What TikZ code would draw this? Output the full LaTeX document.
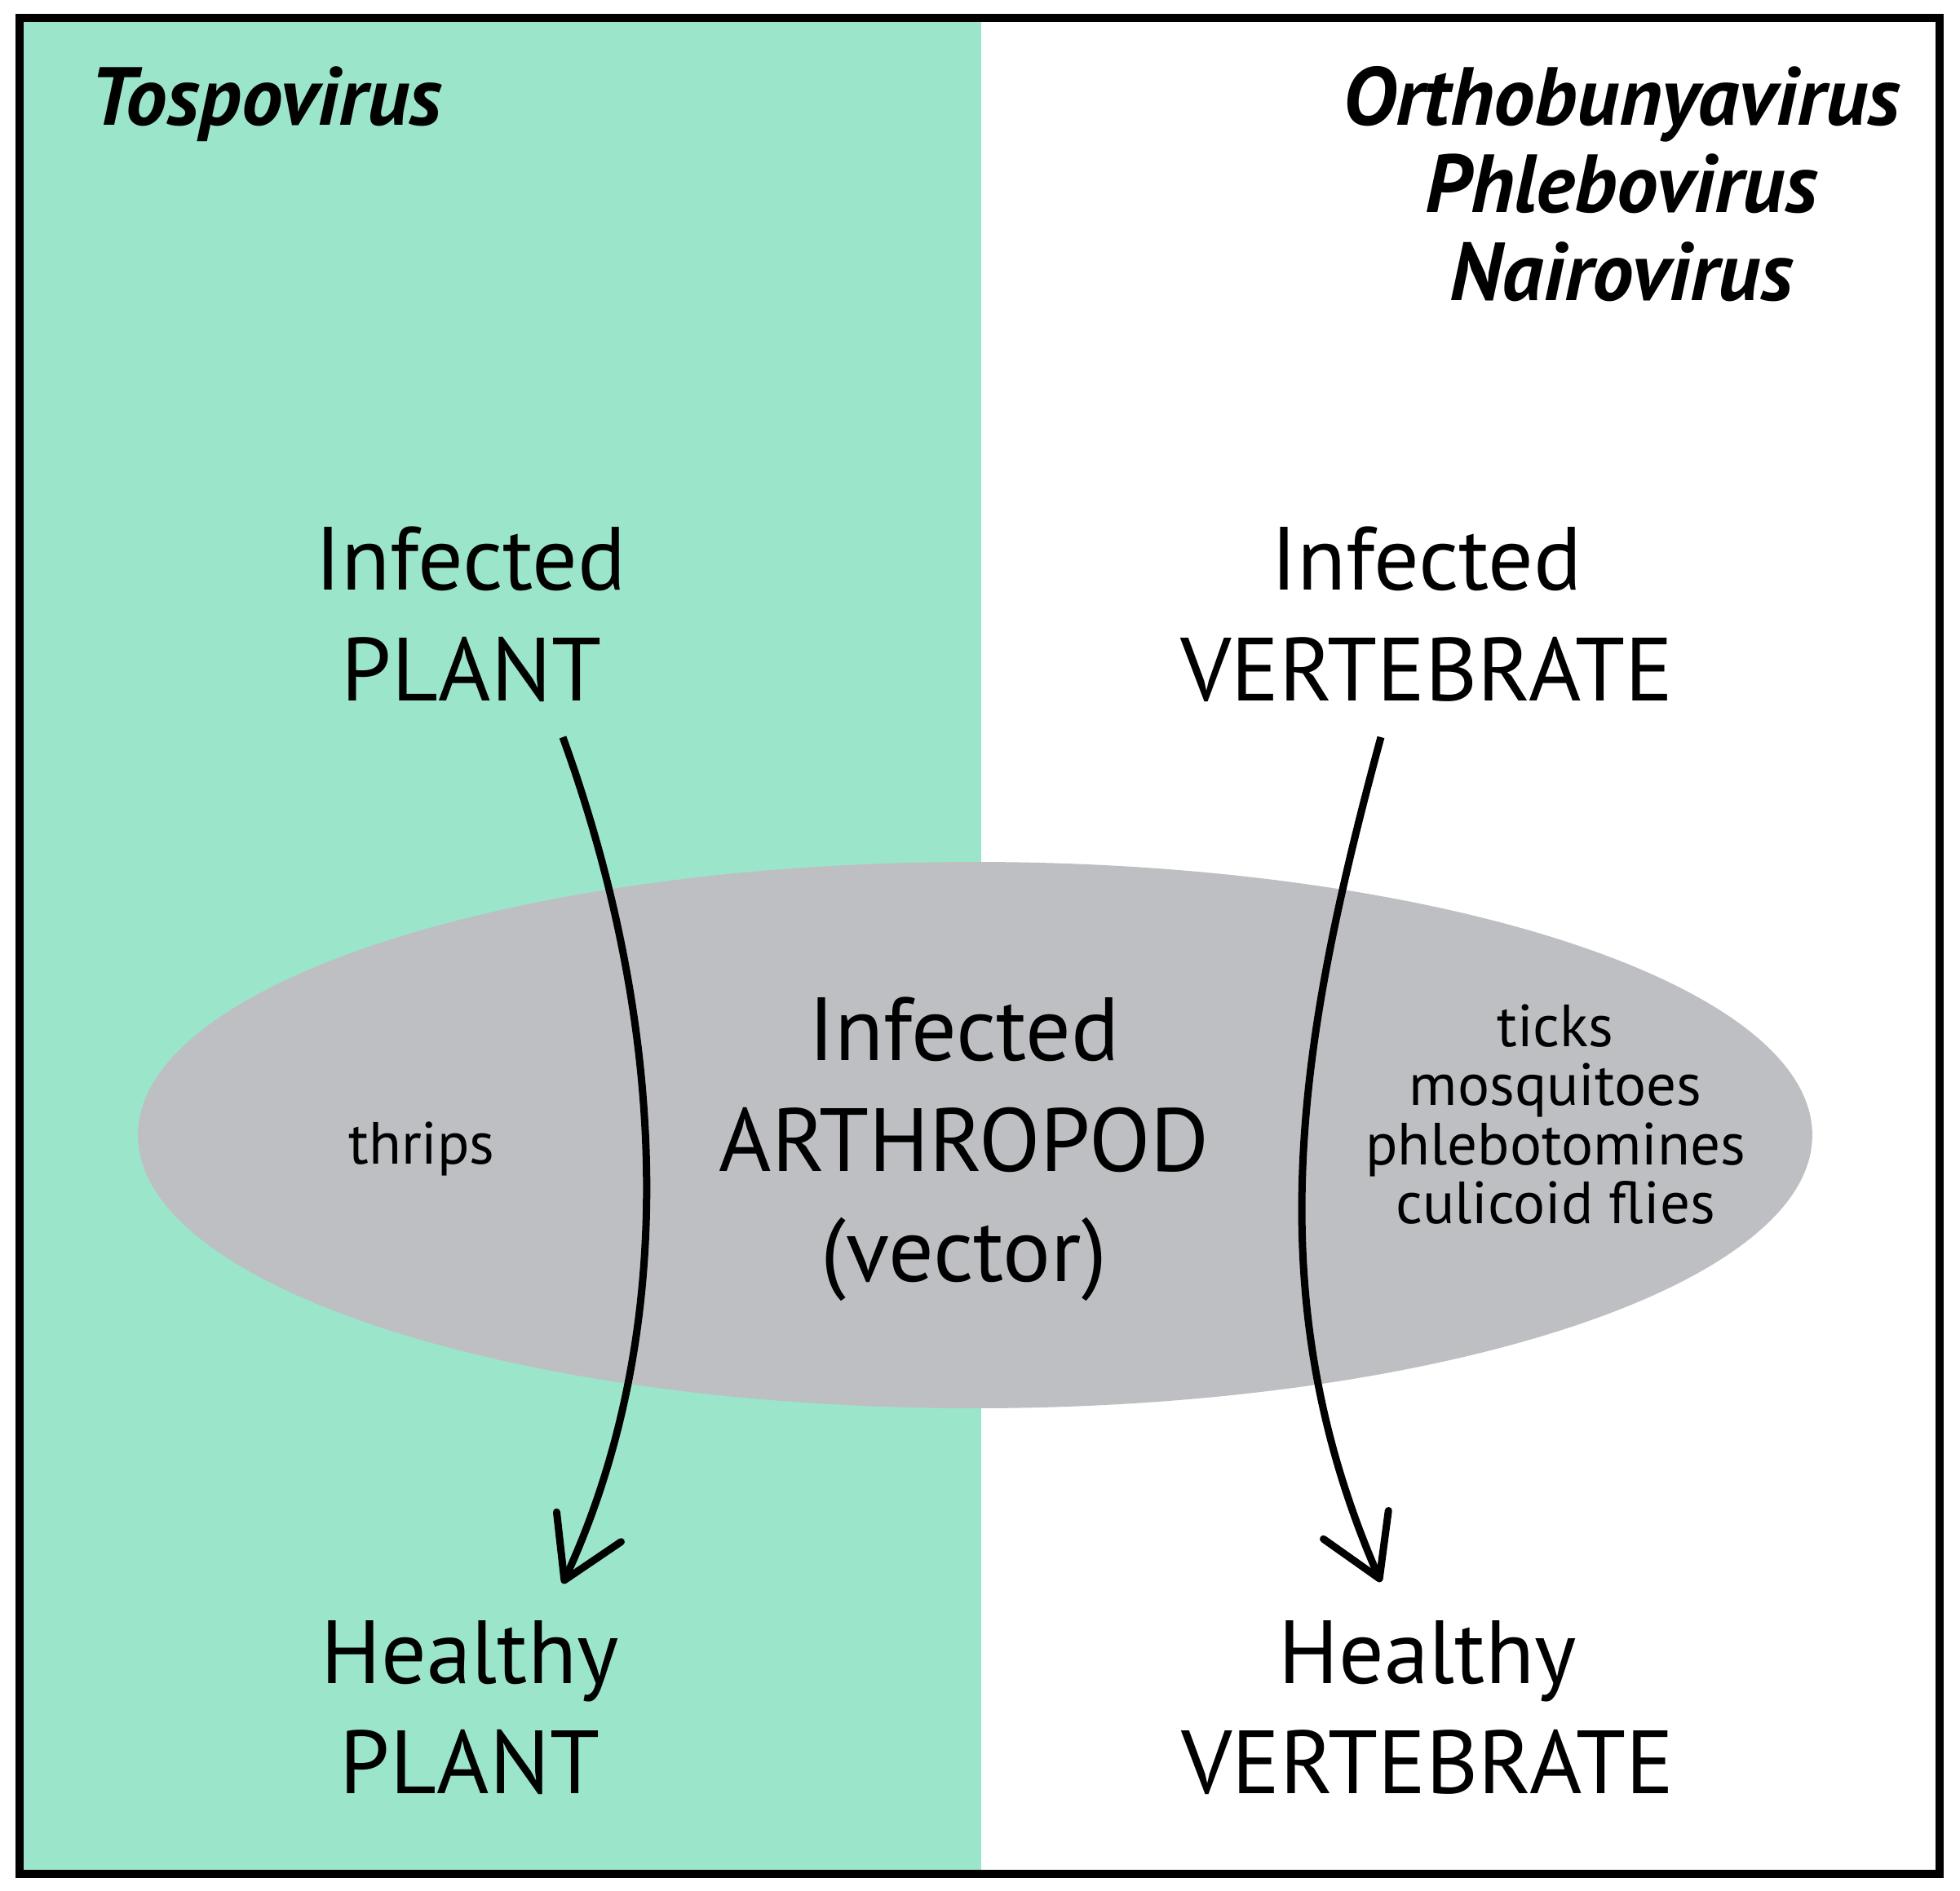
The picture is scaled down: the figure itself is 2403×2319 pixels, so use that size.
\documentclass[tikz,border=0pt]{standalone}
\usepackage{fontspec}
\setmainfont{PT Sans}
\usetikzlibrary{arrows.meta}
\definecolor{plantgreen}{HTML}{9BE5CA}
\definecolor{vecgray}{HTML}{BEBFC3}
\tikzset{
  bigtxt/.style={anchor=base, inner sep=0pt, font=\fontsize{11}{13.6}\selectfont},
  smalltxt/.style={anchor=base, inner sep=0pt, font=\fontsize{7.3}{7.3}\selectfont},
  genus/.style={anchor=base, inner sep=0pt, font=\fontsize{10.1}{10.7}\selectfont\bfseries\itshape},
  transmit/.style={line width=0.9pt, -{Straight Barb[length=7.2pt,width=8.7pt,round]}},
}
\begin{document}
\begin{tikzpicture}[x=0.1pt,y=-0.1pt]
\useasboundingbox (0,0) rectangle (2403,2319);
% backgrounds
\fill[white] (24,22) rectangle (2378,2298);
\fill[plantgreen] (24,22) rectangle (1203,2298);
\fill[vecgray] (1195.5,1392) ellipse [x radius=102.65pt, y radius=33.5pt];
\draw[line width=1pt] (24,22) rectangle (2378,2298);
% genus labels
\node[genus, anchor=base west] (tospo) at (108,153) {Tospovirus};
\node[genus] (ortho) at (1988,153) {Orthobunyavirus};
\node[genus] (phlebo) at (1988,260) {Phlebovirus};
\node[genus] (nairo) at (1988,368) {Nairovirus};
% hosts
\node[bigtxt] (ip1) at (577,723) {Infected};
\node[bigtxt] (ip2) at (578,859) {PLANT};
\node[bigtxt] (iv1) at (1749,723) {Infected};
\node[bigtxt] (iv2) at (1749,859) {VERTEBRATE};
\node[bigtxt] (ia1) at (1182,1300) {Infected};
\node[bigtxt] (ia2) at (1182,1436) {ARTHROPOD};
\node[bigtxt] (ia3) at (1182,1571) {(vector)};
\node[bigtxt] (hp1) at (576,2064) {Healthy};
\node[bigtxt] (hp2) at (576,2199) {PLANT};
\node[bigtxt] (hv1) at (1750,2064) {Healthy};
\node[bigtxt] (hv2) at (1750,2199) {VERTEBRATE};
% vectors
\node[smalltxt] (thrips) at (517,1427) {thrips};
\node[smalltxt] (v1) at (1907,1283) {ticks};
\node[smalltxt] (v2) at (1907,1355) {mosquitoes};
\node[smalltxt] (v3) at (1907,1428) {phlebotomines};
\node[smalltxt] (v4) at (1907,1500) {culicoid flies};
% arrows
\coordinate (ps) at (690,904);
\coordinate (pe) at (690,1942);
\coordinate (vs) at (1693,904);
\coordinate (ve) at (1693,1940);
\draw[transmit] (ps) .. controls (812,1240) and (840,1616) .. (pe);
\draw[transmit] (vs) .. controls (1593,1273) and (1539,1587) .. (ve);
\end{tikzpicture}
\end{document}
